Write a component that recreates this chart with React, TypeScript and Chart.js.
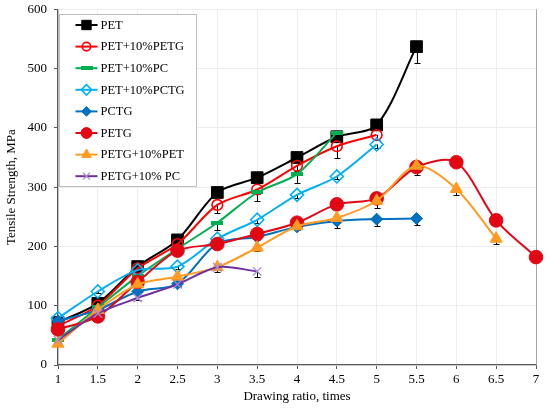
import React, { useEffect, useRef } from 'react';
import { Chart, registerables } from 'chart.js';
import { drawPoint } from 'chart.js/helpers';

Chart.register(...registerables);

// ---- data ----
const xPET = [1, 1.5, 2, 2.5, 3, 3.5, 4, 4.5, 5, 5.5];
const yPET = [72, 104, 166, 211, 291, 316, 350, 385, 405, 537];
const ePET = [3, 4, 5, 5, 5, 6, 6, 6, 6, 28];

const xPET_PETG = [1, 1.5, 2, 2.5, 3, 3.5, 4, 4.5, 5];
const yPET_PETG = [66, 100, 163, 204, 270, 296, 336, 369, 388];
const ePET_PETG = [3, 4, 5, 6, 13, 8, 8, 19, 8];

const xPET_PC = [1, 1.5, 2, 2.5, 3, 3.5, 4, 4.5];
const yPET_PC = [43, 97, 150, 196, 240, 291, 322, 392];
const ePET_PC = [3, 4, 5, 6, 12, 14, 15, 6];

const xPET_PCTG = [1, 1.5, 2, 2.5, 3, 3.5, 4, 4.5, 5];
const yPET_PCTG = [79, 124, 160, 166, 213, 245, 287, 318, 372];
const ePET_PCTG = [3, 3, 4, 4, 5, 5, 5, 5, 6];

const xPCTG = [1, 1.5, 2, 2.5, 3, 3.5, 4, 4.5, 5, 5.5];
const yPCTG = [74, 93, 124, 137, 205, 216, 233, 243, 246, 247];
const ePCTG = [3, 3, 4, 4, 5, 5, 6, 12, 12, 11];

const xPETG = [1, 1.5, 2, 2.5, 3, 3.5, 4, 4.5, 5, 5.5, 6, 6.5, 7];
const yPETG = [60, 82, 140, 193, 204, 221, 240, 271, 281, 334, 342, 244, 182];
const ePETG = [3, 3, 4, 4, 5, 5, 6, 6, 8, 8, 8, 8, 5];

const xPETG_PET = [1, 1.5, 2, 2.5, 3, 3.5, 4, 4.5, 5, 5.5, 6, 6.5];
const yPETG_PET = [36, 93, 136, 149, 165, 198, 234, 248, 277, 336, 297, 213];
const ePETG_PET = [3, 3, 4, 4, 5, 5, 6, 8, 12, 16, 11, 9];

const xPETG_PC = [1, 1.5, 2, 2.5, 3, 3.5];
const yPETG_PC = [42, 87, 113, 136, 165, 158];
const ePETG_PC = [3, 3, 4, 4, 8, 9];

const seriesNames = [
  'PET',
  'PET+10%PETG',
  'PET+10%PC',
  'PET+10%PCTG',
  'PCTG',
  'PETG',
  'PETG+10%PET',
  'PETG+10% PC',
];

const xTicksMin = 1;
const xTicksMax = 7;
const xStep = 0.5;
const yTicksMin = 0;
const yTicksMax = 600;
const yStep = 100;

const FONT = '"Liberation Serif", "Times New Roman", serif';

function pts(xs: number[], ys: number[]) {
  return xs.map((x, i) => ({ x, y: ys[i] }));
}

function makeDash(color: string, w: number, h: number) {
  const c = document.createElement('canvas');
  c.width = w;
  c.height = h;
  const cx = c.getContext('2d')!;
  cx.fillStyle = color;
  cx.fillRect(0, 0, w, h);
  return c;
}

// minus error bars, drawn beneath the lines and markers
const errorBarPlugin = {
  id: 'errorBars',
  beforeDatasetsDraw(chart: any) {
    const ctx = chart.ctx;
    const yScale = chart.scales.y;
    ctx.save();
    ctx.strokeStyle = '#000';
    ctx.lineWidth = 1;
    chart.data.datasets.forEach((ds: any, di: number) => {
      const meta = chart.getDatasetMeta(di);
      const errs: number[] = ds.errors || [];
      meta.data.forEach((el: any, i: number) => {
        const e = errs[i];
        if (!e) return;
        const v = ds.data[i].y;
        const x = Math.round(el.x) + 0.5;
        const y0 = yScale.getPixelForValue(v);
        const y1 = Math.round(yScale.getPixelForValue(v - e)) + 0.5;
        ctx.beginPath();
        ctx.moveTo(x, y0);
        ctx.lineTo(x, y1);
        ctx.moveTo(x - 3, y1);
        ctx.lineTo(x + 3, y1);
        ctx.stroke();
      });
    });
    ctx.restore();
  },
};

const framePlugin = {
  id: 'frame',
  beforeDatasetsDraw(chart: any) {
    const { ctx, chartArea } = chart;
    ctx.save();
    ctx.strokeStyle = '#a6a6a6';
    ctx.lineWidth = 1;
    ctx.beginPath();
    ctx.moveTo(Math.round(chartArea.right) + 0.5, chartArea.top);
    ctx.lineTo(Math.round(chartArea.right) + 0.5, chartArea.bottom);
    ctx.stroke();
    ctx.restore();
  },
};

const boxLegendPlugin = {
  id: 'boxLegend',
  afterDatasetsDraw(chart: any) {
    const { ctx, chartArea } = chart;
    const left = Math.round(chartArea.left) + 1.5;
    const top = Math.round(chartArea.top) + 5.5;
    const w = 137;
    const h = 172;
    ctx.save();
    ctx.fillStyle = '#ffffff';
    ctx.fillRect(left, top, w, h);
    ctx.strokeStyle = '#bfbfbf';
    ctx.lineWidth = 1;
    ctx.strokeRect(left, top, w, h);
    ctx.font = '12.5px ' + FONT;
    ctx.textBaseline = 'middle';
    ctx.textAlign = 'left';
    chart.data.datasets.forEach((ds: any, i: number) => {
      const y = top + 10.5 + i * 21.6;
      const x0 = left + 16;
      const x1 = left + 38;
      ctx.strokeStyle = ds.borderColor;
      ctx.lineWidth = ds.borderWidth;
      ctx.beginPath();
      ctx.moveTo(x0, y);
      ctx.lineTo(x1, y);
      ctx.stroke();
      ctx.fillStyle = ds.pointBackgroundColor;
      ctx.strokeStyle = ds.pointBorderColor;
      ctx.lineWidth = ds.pointBorderWidth;
      drawPoint(
        ctx,
        {
          pointStyle: ds.pointStyle,
          rotation: 0,
          radius: ds.pointRadius * 0.8,
          borderWidth: ds.pointBorderWidth,
        } as any,
        (x0 + x1) / 2,
        y
      );
      ctx.fillStyle = '#000';
      ctx.fillText(ds.label, left + 41, y + 0.5);
    });
    ctx.restore();
  },
};

export default function App() {
  const ref = useRef<HTMLCanvasElement | null>(null);

  useEffect(() => {
    document.body.style.margin = '0';
    if (!ref.current) return;
    const greenDash = makeDash('#00b050', 12, 4);

    const mk = (
      idx: number,
      xs: number[],
      ys: number[],
      errs: number[],
      color: string,
      pointStyle: any,
      radius: number,
      fill: string,
      pBorder: string,
      pBorderW: number
    ) => ({
      label: seriesNames[idx],
      data: pts(xs, ys),
      errors: errs,
      borderColor: color,
      backgroundColor: color,
      borderWidth: 2,
      tension: 0.3,
      pointStyle,
      pointRadius: radius,
      pointHoverRadius: radius,
      pointBackgroundColor: fill,
      pointBorderColor: pBorder,
      pointBorderWidth: pBorderW,
      order: 10 - idx,
      clip: false as any,
    });

    const datasets = [
      mk(0, xPET, yPET, ePET, '#000000', 'rect', 8.3, '#000000', '#000000', 1),
      mk(1, xPET_PETG, yPET_PETG, ePET_PETG, '#ff0000', 'circle', 5.3, 'rgba(255,255,255,0)', '#ff0000', 1.6),
      mk(2, xPET_PC, yPET_PC, ePET_PC, '#00b050', greenDash, 6, '#00b050', '#00b050', 0),
      mk(3, xPET_PCTG, yPET_PCTG, ePET_PCTG, '#00b0f0', 'rectRot', 6.5, 'rgba(255,255,255,0)', '#00b0f0', 1.6),
      mk(4, xPCTG, yPCTG, ePCTG, '#0070c0', 'rectRot', 6, '#0070c0', '#0070c0', 1),
      mk(5, xPETG, yPETG, ePETG, '#e30613', 'circle', 6.8, '#e30613', '#e30613', 1),
      mk(6, xPETG_PET, yPETG_PET, ePETG_PET, '#ff9a22', 'triangle', 7, '#ff9a22', '#ff9a22', 1),
      mk(7, xPETG_PC, yPETG_PC, ePETG_PC, '#7030a0', 'crossRot', 6, '#ffffff', '#a98bd4', 1.3),
    ];

    const chart = new Chart(ref.current, {
      type: 'line',
      data: { datasets: datasets as any },
      options: {
        animation: false,
        responsive: false,
        maintainAspectRatio: false,
        layout: { padding: { top: 9, right: 14, bottom: 8, left: 0 } },
        plugins: {
          legend: { display: false },
          tooltip: { enabled: false },
        },
        scales: {
          x: {
            type: 'linear',
            min: xTicksMin,
            max: xTicksMax,
            ticks: {
              stepSize: xStep,
              color: '#000',
              font: { family: FONT, size: 13 },
              padding: 3,
              maxRotation: 0,
              autoSkip: false,
              callback: (v: any) => String(Number(v)),
            },
            grid: {
              color: '#ececec',
              lineWidth: 1,
              tickColor: '#595959',
              tickLength: 4,
            },
            border: { color: '#595959', width: 1.3 },
            title: {
              display: true,
              text: 'Drawing ratio, times',
              color: '#000',
              font: { family: FONT, size: 13 },
              padding: { top: 4, bottom: 0 },
            },
            afterFit: (scale: any) => {
              scale.height = 39;
              scale.paddingLeft = 0;
              scale.paddingRight = 0;
            },
          },
          y: {
            type: 'linear',
            min: yTicksMin,
            max: yTicksMax,
            ticks: {
              stepSize: yStep,
              color: '#000',
              font: { family: FONT, size: 13 },
              padding: 7,
            },
            grid: {
              color: '#ececec',
              lineWidth: 1,
              tickColor: '#595959',
              tickLength: 4,
            },
            border: { color: '#595959', width: 1.3 },
            title: {
              display: true,
              text: 'Tensile Strength, MPa',
              color: '#000',
              font: { family: FONT, size: 13 },
              padding: { top: 4, bottom: 0 },
            },
            afterFit: (scale: any) => {
              scale.width = 58;
              scale.paddingTop = 0;
              scale.paddingBottom = 0;
            },
          },
        },
      },
      plugins: [framePlugin, errorBarPlugin, boxLegendPlugin],
    });
    return () => chart.destroy();
  }, []);

  return (
    <div style={{ position: 'absolute', left: 0, top: 0, width: 550, height: 412, background: '#fff' }}>
      <canvas ref={ref} width={550} height={412} style={{ width: 550, height: 412 }} />
    </div>
  );
}
